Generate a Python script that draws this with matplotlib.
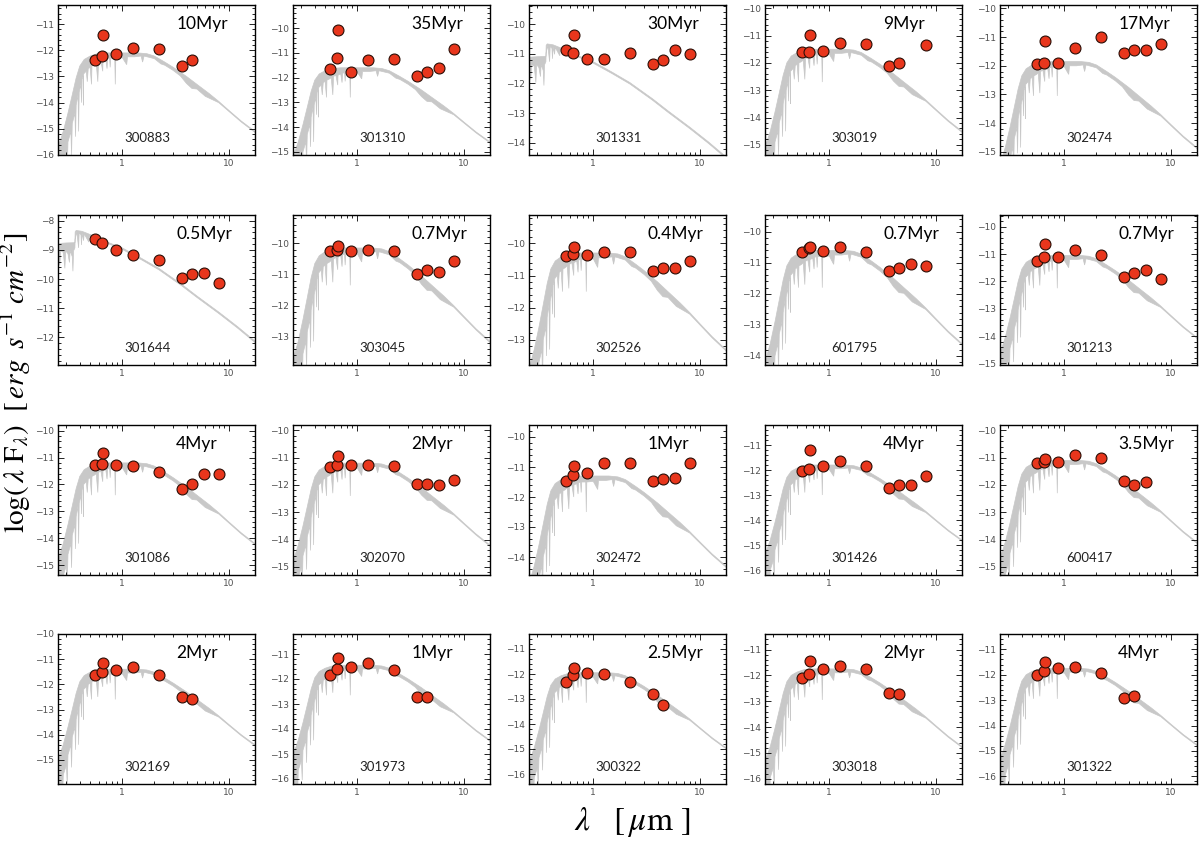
import matplotlib
matplotlib.use("Agg")
import matplotlib.pyplot as plt
from matplotlib.ticker import LogLocator, NullFormatter, MultipleLocator

# photometric bands (micron): V, R, H-alpha, I, J, K, IRAC 3.6/4.5/5.8/8.0
bands = [0.55, 0.64, 0.66, 0.88, 1.25, 2.2, 3.6, 4.5, 5.8, 8.0]

ids = ["300883", "301310", "301331", "303019", "302474",
       "301644", "303045", "302526", "601795", "301213",
       "301086", "302070", "302472", "301426", "600417",
       "302169", "301973", "300322", "303018", "301322"]

ages = ["10Myr", "35Myr", "30Myr", "9Myr", "17Myr",
        "0.5Myr", "0.7Myr", "0.4Myr", "0.7Myr", "0.7Myr",
        "4Myr", "2Myr", "1Myr", "4Myr", "3.5Myr",
        "2Myr", "1Myr", "2.5Myr", "2Myr", "4Myr"]

ylims = [(-16.0, -10.27), (-15.13, -9.06), (-14.41, -9.36), (-15.37, -9.88), (-15.11, -9.88),
         (-12.95, -7.8), (-13.91, -9.09), (-13.78, -9.12), (-14.29, -9.46), (-15.06, -9.57),
         (-15.37, -9.79), (-15.3, -9.8), (-14.6, -9.6), (-16.2, -10.2), (-15.3, -9.8),
         (-15.96, -10.0), (-16.2, -10.2), (-16.4, -10.4), (-16.2, -10.4), (-16.3, -10.4)]

model_kind = ["cool", "cool", "hot", "cool", "cool",
              "hot", "cool", "cool", "cool", "cool",
              "cool", "cool", "cool", "cool", "cool",
              "cool", "cool", "cool", "cool", "cool"]

model_peak = [-12.1, -11.6, -10.67, -11.5, -11.85,
              -8.33, -10.15, -10.3, -10.6, -11.05,
              -11.2, -11.2, -11.3, -11.8, -11.1,
              -11.4, -11.45, -11.95, -11.75, -11.75]

N = None
phot = [
    [-12.36, -12.23, -11.42, -12.14, -11.91, -11.96, -12.60, -12.38, N, N],
    [-11.63, -11.19, -10.07, -11.77, -11.30, -11.23, -11.92, -11.77, -11.59, -10.86],
    [-10.89, -10.96, -10.36, -11.18, -11.17, -10.98, -11.35, -11.20, -10.87, -11.00],
    [-11.61, -11.61, -10.97, -11.57, -11.28, -11.30, -12.11, -12.02, N, -11.34],
    [-11.95, -11.89, -11.12, -11.89, -11.37, -10.99, -11.57, -11.46, -11.45, -11.23],
    [-8.63, -8.77, N, -9.00, -9.19, -9.36, -9.98, -9.82, -9.80, -10.15],
    [-10.24, -10.21, -10.08, -10.25, -10.21, -10.25, -11.00, -10.87, -10.92, -10.58],
    [-10.39, -10.33, -10.12, -10.36, -10.28, -10.28, -10.86, -10.76, -10.76, -10.55],
    [-10.64, -10.53, -10.48, -10.61, -10.50, -10.64, -11.26, -11.18, -11.05, -11.10],
    [-11.27, -11.12, -10.63, -11.09, -10.84, -11.03, -11.83, -11.71, -11.59, -11.91],
    [-11.29, -11.25, -10.85, -11.29, -11.32, -11.54, -12.16, -11.97, -11.62, -11.62],
    [-11.35, -11.25, -10.95, -11.25, -11.25, -11.30, -11.98, -11.95, -12.00, -11.80],
    [-11.45, -11.25, -10.98, -11.20, -10.85, -10.88, -11.48, -11.40, -11.35, -10.85],
    [-12.05, -11.95, -11.20, -11.85, -11.65, -11.85, -12.70, -12.60, -12.60, -12.25],
    [-11.20, -11.15, -11.05, -11.15, -10.90, -11.00, -11.85, -12.00, -11.90, N],
    [-11.62, -11.51, -11.16, -11.45, -11.33, -11.62, -12.52, -12.57, N, N],
    [-11.85, -11.60, -11.15, -11.50, -11.35, -11.65, -12.70, -12.72, N, N],
    [-12.30, -12.05, -11.75, -11.95, -12.00, -12.30, -12.80, -13.25, N, N],
    [-12.10, -11.95, -11.45, -11.75, -11.65, -11.75, -12.70, -12.72, N, N],
    [-12.00, -11.85, -11.50, -11.75, -11.70, -11.95, -12.90, -12.85, N, N],
]

# model spectrum envelopes, offsets in dex from the model peak
cool_top_wl = [0.25, 0.28, 0.31, 0.34, 0.37, 0.40, 0.44, 0.50, 0.58, 0.70, 1.0, 1.4,
               1.7, 2.0, 2.5, 3.0, 4.0, 5.0, 6.5, 8.0, 10.0, 13.0, 17.5]
cool_top = [-3.6, -3.0, -2.3, -1.6, -0.95, -0.5, -0.25, -0.12, -0.03, 0.0, 0.0, 0.0,
            -0.03, -0.12, -0.35, -0.55, -0.9, -1.2, -1.55, -1.85, -2.2, -2.6, -3.0]
cool_bot_wl = [0.25, 0.27, 0.275, 0.28, 0.30, 0.305, 0.31, 0.33, 0.335, 0.34, 0.36, 0.365,
               0.37, 0.385, 0.39, 0.395, 0.41, 0.415, 0.42, 0.43, 0.432, 0.435, 0.46, 0.47,
               0.48, 0.50, 0.515, 0.52, 0.55, 0.57, 0.59, 0.60, 0.63, 0.656, 0.66, 0.70,
               0.72, 0.73, 0.76, 0.77, 0.78, 0.85, 0.86, 0.87, 1.0, 1.1, 1.12, 1.3, 1.5,
               1.55, 1.6, 2.0, 2.3, 2.5, 3.0, 3.5, 4.0, 4.5, 5.0, 6.0, 8.0, 10.0, 13.0, 17.5]
cool_bot = [-5.5, -4.8, -5.5, -4.2, -3.8, -4.6, -3.4, -3.0, -3.9, -2.7, -2.3, -3.2,
            -2.0, -1.6, -3.0, -1.5, -1.2, -1.9, -1.0, -0.9, -2.0, -0.8, -0.7, -1.1,
            -0.6, -0.55, -1.2, -0.5, -0.45, -0.4, -1.1, -0.35, -0.3, -0.7, -0.3, -0.25,
            -0.6, -0.22, -0.2, -0.55, -0.2, -0.2, -1.2, -0.2, -0.18, -0.45, -0.15, -0.15, -0.12,
            -0.35, -0.12, -0.22, -0.42, -0.47, -0.67, -0.88, -1.17, -1.36, -1.38, -1.66, -1.9,
            -2.24, -2.64, -3.04]

hot_top_wl = [0.25, 0.30, 0.36, 0.362, 0.37, 0.42, 0.55, 0.7, 1.0, 1.5, 2.2, 3.6, 5.0,
              8.0, 12.0, 17.5]
hot_top = [-0.45, -0.43, -0.42, -0.05, 0.0, -0.03, -0.2, -0.38, -0.6, -0.95, -1.3, -1.85,
           -2.25, -2.8, -3.3, -3.8]
hot_bot_wl = [0.25, 0.26, 0.265, 0.28, 0.29, 0.295, 0.31, 0.32, 0.325, 0.34, 0.345, 0.35,
              0.36, 0.362, 0.375, 0.39, 0.395, 0.41, 0.415, 0.42, 0.434, 0.44, 0.486, 0.49,
              0.55, 0.656, 0.66, 0.7, 1.0, 1.5, 2.2, 3.6, 5.0, 8.0, 12.0, 17.5]
hot_bot = [-0.7, -1.2, -0.7, -0.75, -1.3, -0.7, -0.8, -1.1, -0.7, -0.9, -1.4, -0.7,
           -0.6, -0.3, -0.05, -0.6, -0.08, -0.15, -0.5, -0.1, -0.35, -0.12, -0.4, -0.2,
           -0.25, -0.5, -0.37, -0.42, -0.65, -1.0, -1.35, -1.9, -2.3, -2.85, -3.35, -3.85]

templates = {"cool": (cool_top_wl, cool_top, cool_bot_wl, cool_bot),
             "hot": (hot_top_wl, hot_top, hot_bot_wl, hot_bot)}

W, H = 1200, 842
col_left = [58, 293, 529, 765, 1000]
row_top = [5, 215, 425, 634]
PW, PH = 197, 150
GRAY = "#c8c8c8"
RED = "#e8361c"

plt.rcParams["mathtext.fontset"] = "stix"
fig = plt.figure(figsize=(W / 100, H / 100), dpi=100)

for i in range(20):
    r, c = divmod(i, 5)
    ax = fig.add_axes([col_left[c] / W, 1 - (row_top[r] + PH) / H, PW / W, PH / H])
    ax.set_xscale("log")
    ax.set_xlim(0.25, 17.5)
    ax.set_ylim(*ylims[i])

    tw, tv, bw, bv = templates[model_kind[i]]
    peak = model_peak[i]
    xs = list(tw) + list(bw[::-1])
    ys = [peak + v for v in tv] + [peak + v for v in bv[::-1]]
    ax.fill(xs, ys, color=GRAY, lw=0.5, ec=GRAY, zorder=1)

    px = [b for b, v in zip(bands, phot[i]) if v is not None]
    py = [v for v in phot[i] if v is not None]
    ax.scatter(px, py, s=62, c=RED, edgecolors="#2a0e06", linewidths=0.8, zorder=3)

    ax.text(0.6, 0.875, ages[i], transform=ax.transAxes, fontsize=12.5,
            family="Lato", ha="left", va="center")
    ax.text(0.455, 0.112, ids[i], transform=ax.transAxes, fontsize=9.5,
            family="Lato", ha="center", va="center", color="#222222")

    ax.set_xticks([1, 10])
    ax.set_xticklabels(["1", "10"])
    ax.xaxis.set_minor_locator(LogLocator(base=10, subs=range(2, 10)))
    ax.xaxis.set_minor_formatter(NullFormatter())
    ax.yaxis.set_major_locator(MultipleLocator(1))
    ax.yaxis.set_minor_locator(MultipleLocator(0.2))
    ax.tick_params(which="both", direction="in", top=True, right=True,
                   labelsize=6.5, labelcolor="#505050", width=0.6, pad=3)
    ax.tick_params(which="major", length=4)
    ax.tick_params(which="minor", length=2)
    for sp in ax.spines.values():
        sp.set_linewidth(1.0)

fig.text(0.0135, 0.545,
         r"$\log(\,\lambda\ \mathrm{F}_\lambda)\ \ [\,erg\ \,s^{-1}\ cm^{-2}]$",
         rotation=90, fontsize=21, ha="center", va="center")
fig.text(0.527, 0.024, r"$\lambda\ \ \ [\,\mu\mathrm{m}\ ]$", fontsize=24,
         ha="center", va="center")

fig.savefig("out.png", dpi=100)
